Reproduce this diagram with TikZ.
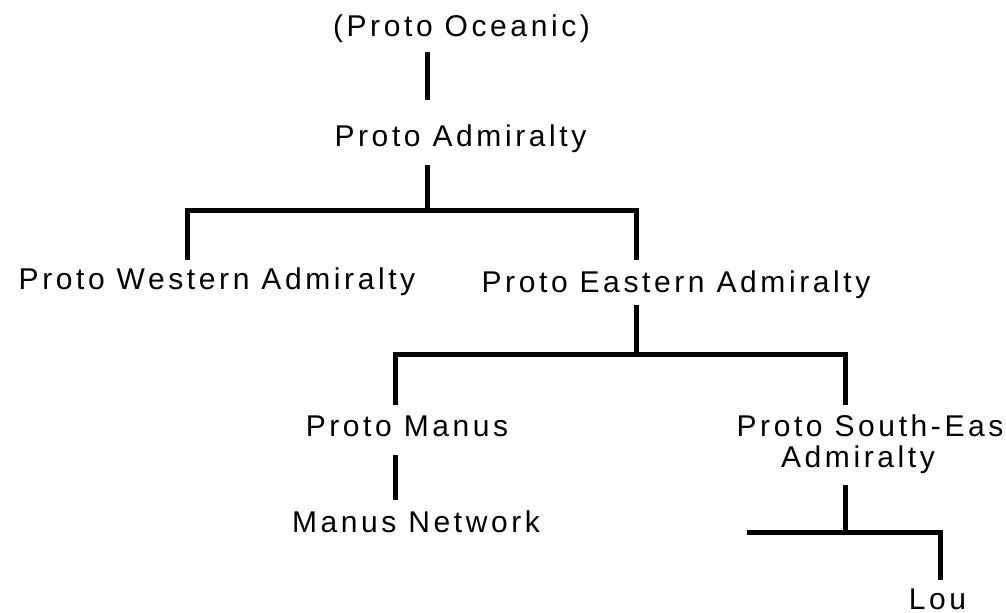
\documentclass[tikz,border=0pt]{standalone}
\usepackage{fontspec}
\setmainfont{Liberation Sans}[LetterSpace=12]
\usepackage{tikz}

\begin{document}
\begin{tikzpicture}[x=0.5pt,y=-0.5pt]
\tikzstyle{every node}+=[inner sep=0pt,font=\fontsize{15}{15.5}\selectfont]
\tikzstyle{lang}=[anchor=base,align=center]
\tikzstyle{branch}=[black,line width=2.5pt,line cap=butt,line join=miter]
\useasboundingbox (0,0) rectangle (1006,613);
\clip (0,0) rectangle (1006,613);
% languages
\node [lang] (oceanic) at (461.5,37) {(Proto Oceanic)};
\node [lang] (admiralty) at (460.5,147) {Proto Admiralty};
\node [lang] (western) at (217,290) {Proto Western Admiralty};
\node [lang] (eastern) at (676,293) {Proto Eastern Admiralty};
\node [lang] (manus) at (407,437) {Proto Manus};
\node [lang] (southeast) at (876,468) {Proto South-East\\Admiralty\hspace*{18pt}};
\node [lang] (network) at (416,533) {Manus Network};
\node [lang] (lou) at (937.5,610) {Lou};
% branch points
\coordinate (oc1) at (427,52);  \coordinate (oc2) at (427,100);
\coordinate (ad1) at (427,165); \coordinate (ad2) at (427,211);
\coordinate (we1) at (187,260); \coordinate (ea0) at (636,260);
\coordinate (ea1) at (636,305); \coordinate (ea2) at (636,355);
\coordinate (ma0) at (395,405); \coordinate (se0) at (845,405);
\coordinate (ma1) at (395,455); \coordinate (ma2) at (395,500);
\coordinate (se1) at (845,485); \coordinate (se2) at (845,533);
\coordinate (sel) at (747,533); \coordinate (lo0) at (940,580);
% tree
\draw [branch] (oc1) -- (oc2);
\draw [branch] (ad1) -- (ad2);
\draw [branch] (we1) |- (ad2) -| (ea0);
\draw [branch] (ea1) -- (ea2);
\draw [branch] (ma0) |- (ea2) -| (se0);
\draw [branch] (ma1) -- (ma2);
\draw [branch] (se1) -- (se2);
\draw [branch] (sel) -| (lo0);
\end{tikzpicture}
\end{document}
